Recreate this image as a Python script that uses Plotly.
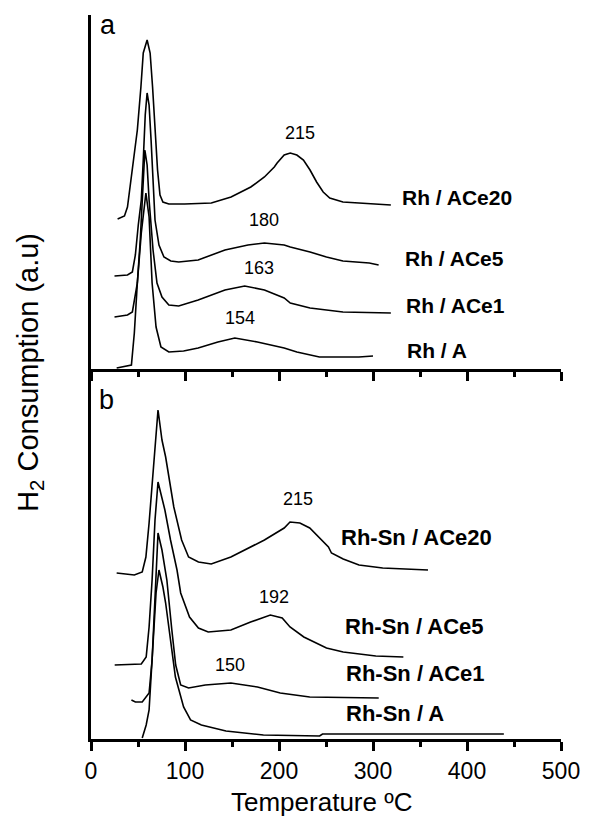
import plotly.graph_objects as go

# ---------------- Panel a : Rh catalysts ----------------
# temperature (°C) and H2 consumption (a.u.)
rh_ace20_t = [28.3, 35.6, 38.8, 44.0, 49.3, 53.1, 55.6, 59.7, 62.9, 65.5, 68.1, 70.8, 73.4, 76.5, 82.8, 99.6,
              128, 149, 170, 184.5, 195, 198, 205.5, 212, 219, 226, 233, 240, 247, 254, 268, 285, 319]
rh_ace20_i = [150, 153, 162, 199, 239, 282, 316, 329, 316, 282, 239, 199, 174, 167, 165, 165,
              166, 172, 182, 192, 202, 206, 214, 216, 214, 209, 199, 187, 177, 171, 167, 166, 164]

rh_ace5_t = [25, 38.8, 44, 47.2, 50.3, 53.5, 55.6, 57.7, 59.7, 61.8, 63.9, 66, 68.1, 72.3, 77.6, 84.9, 93.3,
             114, 142.5, 167, 184.5, 205.5, 212, 233, 250.5, 268, 296, 306]
rh_ace5_i = [93, 94, 97, 114, 144, 169, 209, 254, 276, 264, 229, 184, 149, 124, 112, 108, 107,
             109, 119, 124, 126, 124, 122, 117, 112, 108, 106, 104]

rh_ace1_t = [25, 38.8, 44, 49.3, 52.4, 54.5, 57.3, 59.7, 61.8, 66, 70.2, 75.5, 82.8, 93.3,
             114, 142.5, 163.5, 184.5, 205.5, 212, 233, 268, 319]
rh_ace1_i = [52, 54, 57, 86, 129, 169, 219, 204, 169, 119, 86, 72, 64, 63,
             69, 79, 83, 79, 71, 66, 61, 57, 56]

rh_a_t = [27.3, 43, 46.1, 49.3, 53.5, 58.4, 61.8, 65, 69.2, 74.4, 82.8, 98.5,
          114, 135, 153, 177, 205.5, 219, 243, 285, 300]
rh_a_i = [1, 4, 36, 86, 136, 176, 152, 86, 42, 22, 17, 18,
          21, 27, 31, 27, 21, 17, 12, 12, 13]

# ---------------- Panel b : Rh-Sn catalysts ----------------
rhsn_ace20_t = [27.3, 46.1, 54.5, 58.4, 61.8, 67.1, 71.3, 75.5, 79.4, 88.1, 96.4, 103.8, 114.3, 127.9,
                148.8, 184.5, 205.5, 211.7, 222.2, 232.7, 243.2, 252.6, 255.8, 268.3, 285.1, 310.3, 358.5]
rhsn_ace20_i = [166, 164, 167, 182, 216, 282, 329, 299, 282, 232, 199, 182, 177, 175,
                182, 199, 211, 217, 216, 211, 201, 192, 186, 180, 174, 171, 169]

rhsn_ace5_t = [25.2, 53.5, 58.7, 61.8, 65, 68.1, 71.3, 74.4, 78.6, 84.6, 91.5, 95.4, 104.8, 114.3, 124.7,
               148.8, 169.8, 190.8, 203.4, 211.7, 226.4, 250.5, 268.3, 303, 332.3]
rhsn_ace5_i = [74, 75, 82, 112, 159, 219, 257, 244, 229, 199, 169, 146, 122, 111, 107,
               109, 117, 124, 121, 112, 102, 91, 87, 83, 82]

rhsn_ace1_t = [43, 47.2, 54.5, 61.8, 65, 68.1, 71.3, 75.5, 80.7, 86, 90.1, 95.4, 103.8,
               121.6, 148.8, 177.1, 201.3, 232.7, 306.1]
rhsn_ace1_i = [39, 37, 37, 46, 79, 149, 206, 189, 159, 109, 74, 54, 51,
               54, 56, 52, 46, 42, 41]

rhsn_a_t = [54.5, 58.7, 61.8, 65, 69.2, 72.3, 76.5, 79.4, 83, 89.8, 98.5, 105.9, 117.4,
            143.6, 183.4, 243.2, 246.3, 302.9, 439.2]
rhsn_a_i = [1, 14, 29, 79, 146, 169, 152, 136, 109, 62, 32, 19, 14,
            8, 4, 3, 5, 5, 5]

# labels
labels_a = ["Rh / ACe20", "Rh / ACe5", "Rh / ACe1", "Rh / A"]
labels_b = ["Rh-Sn / ACe20", "Rh-Sn / ACe5", "Rh-Sn / ACe1", "Rh-Sn / A"]
peaks_a = ["215", "180", "163", "154"]
peaks_b = ["215", "192", "150"]

FONT = "Arial, Liberation Sans, sans-serif"
LINE = dict(color="black", width=1.6)

fig = go.Figure()
for t, i in [(rh_ace20_t, rh_ace20_i), (rh_ace5_t, rh_ace5_i), (rh_ace1_t, rh_ace1_i), (rh_a_t, rh_a_i)]:
    fig.add_trace(go.Scatter(x=t, y=i, mode="lines", line=LINE, xaxis="x2", yaxis="y2",
                             showlegend=False, hoverinfo="skip"))
for t, i in [(rhsn_ace20_t, rhsn_ace20_i), (rhsn_ace5_t, rhsn_ace5_i), (rhsn_ace1_t, rhsn_ace1_i), (rhsn_a_t, rhsn_a_i)]:
    fig.add_trace(go.Scatter(x=t, y=i, mode="lines", line=LINE, xaxis="x", yaxis="y",
                             showlegend=False, hoverinfo="skip"))

ann = []
# curve labels panel a
for txt, (x, y) in zip(labels_a, [(329, 172), (332, 111), (333, 64), (334, 19)]):
    ann.append(dict(x=x, y=y, xref="x2", yref="y2", text="<b>%s</b>" % txt, showarrow=False,
                    xanchor="left", yanchor="middle", font=dict(family=FONT, size=21, color="black")))
for txt, (x, y) in zip(peaks_a, [(222, 236), (184.5, 149), (179, 101), (158, 51)]):
    ann.append(dict(x=x, y=y, xref="x2", yref="y2", text=txt, showarrow=False,
                    xanchor="center", yanchor="middle", font=dict(family=FONT, size=18, color="black")))
# curve labels panel b
for txt, (x, y) in zip(labels_b, [(264, 202), (268, 113), (269.5, 66), (269.5, 26)]):
    ann.append(dict(x=x, y=y, xref="x", yref="y", text="<b>%s</b>" % txt, showarrow=False,
                    xanchor="left", yanchor="middle", font=dict(family=FONT, size=22, color="black")))
for txt, (x, y) in zip(peaks_b, [(220, 240), (195, 142), (148, 74)]):
    ann.append(dict(x=x, y=y, xref="x", yref="y", text=txt, showarrow=False,
                    xanchor="center", yanchor="middle", font=dict(family=FONT, size=18, color="black")))
# panel letters
ann.append(dict(x=18, y=344, xref="x2", yref="y2", text="a", showarrow=False,
                xanchor="center", yanchor="middle", font=dict(family=FONT, size=27, color="black")))
ann.append(dict(x=17, y=339, xref="x", yref="y", text="b", showarrow=False,
                xanchor="center", yanchor="middle", font=dict(family=FONT, size=27, color="black")))
# axis titles
ann.append(dict(x=-0.13, y=0.507, xref="paper", yref="paper", text="H<sub>2</sub> Consumption (a.u)",
                textangle=-90, showarrow=False, xanchor="center", yanchor="middle",
                font=dict(family=FONT, size=29, color="black")))
ann.append(dict(x=0.49, y=-0.087, xref="paper", yref="paper", text="Temperature ºC",
                showarrow=False, xanchor="center", yanchor="middle",
                font=dict(family=FONT, size=26, color="black")))

xax = dict(range=[0, 500], showline=True, linewidth=3, linecolor="black", ticks="outside",
           ticklen=9, tickwidth=3, tickcolor="black", dtick=100, tick0=0, showgrid=False, zeroline=False,
           minor=dict(dtick=50, ticks="outside", ticklen=5, tickwidth=3, tickcolor="black"),
           tickfont=dict(family=FONT, size=23, color="black"), fixedrange=True)
yax = dict(showline=True, linewidth=3, linecolor="black", ticks="", showticklabels=False,
           showgrid=False, zeroline=False, fixedrange=True)

split = 370 / 724
fig.update_layout(
    width=592, height=820,
    margin=dict(l=91, r=24, t=15, b=81),
    paper_bgcolor="white", plot_bgcolor="white",
    xaxis=dict(**xax, anchor="y", domain=[0, 1]),
    xaxis2=dict(**{**xax, "showticklabels": False}, anchor="y2", domain=[0, 1], matches="x"),
    yaxis=dict(**yax, range=[0, 370], domain=[0, split], anchor="x"),
    yaxis2=dict(**yax, range=[0, 354], domain=[split, 1], anchor="x2"),
    annotations=ann,
    showlegend=False,
)

fig.write_html("out.html", config={"displayModeBar": False},
               post_script="document.body.style.margin='0px';")
